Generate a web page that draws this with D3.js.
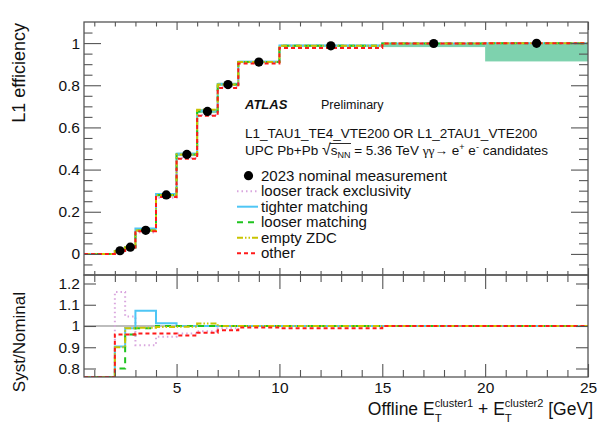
<!DOCTYPE html>
<html>
<head>
<meta charset="utf-8">
<script src="https://cdn.jsdelivr.net/npm/d3@7"></script>
<style>
body { margin: 0; background: #fff; }
text { font-family: "Liberation Sans", Arial, Helvetica, sans-serif; fill: #111; }
</style>
</head>
<body>
<div id="chart"></div>
<script>
// bins of offline Et sum [GeV]
var binEdges = [0.5, 2, 2.5, 3, 4, 5, 6, 7, 8, 10, 15, 20, 25];
var binCenters = [1.25, 2.25, 2.75, 3.5, 4.5, 5.5, 6.5, 7.5, 9, 12.5, 17.5, 22.5];

// nominal efficiency (black dots), first bin not drawn
var nominal = [null, 0.015, 0.032, 0.112, 0.280, 0.472, 0.676, 0.803, 0.910, 0.987, 0.998, 0.999];

// total syst band
var bandLo = [0, 0.010, 0.028, 0.106, 0.272, 0.464, 0.668, 0.797, 0.905, 0.982, 0.981, 0.913];
var bandHi = [0, 0.020, 0.036, 0.118, 0.288, 0.480, 0.686, 0.812, 0.916, 0.992, 0.997, 0.997];

// efficiency of each variation (upper panel)
var effTrack      = [0, 0.017, 0.033, 0.102, 0.266, 0.455, 0.659, 0.795, 0.910, 0.987, 0.998, 0.999];
var effTight      = [0, 0.014, 0.032, 0.120, 0.284, 0.475, 0.680, 0.806, 0.911, 0.988, 0.998, 0.999];
var effLooseMatch = [0, 0.012, 0.031, 0.111, 0.280, 0.472, 0.676, 0.803, 0.910, 0.987, 0.998, 0.999];
var effZDC        = [0, 0.014, 0.032, 0.111, 0.279, 0.471, 0.684, 0.803, 0.910, 0.987, 0.998, 0.999];
var effOther      = [0, 0.014, 0.031, 0.108, 0.270, 0.451, 0.655, 0.787, 0.903, 0.977, 0.998, 0.999];

// syst / nominal (lower panel)
var ratioTrack      = [0, 1.160, 1.045, 0.910, 0.950, 0.965, 0.975, 0.990, 1.000, 1.000, 1.000, 1.000];
var ratioTight      = [0, 0.903, 0.990, 1.072, 1.013, 1.000, 1.000, 1.000, 1.000, 1.000, 1.000, 1.000];
var ratioLooseMatch = [0, 0.800, 0.960, 0.990, 1.000, 1.000, 1.000, 1.000, 1.000, 1.000, 1.000, 1.000];
var ratioZDC        = [0, 0.900, 0.990, 0.992, 0.995, 0.997, 1.012, 1.000, 1.000, 1.000, 1.000, 1.000];
var ratioOther      = [0, 0.960, 0.960, 0.965, 0.965, 0.955, 0.968, 0.980, 0.993, 0.990, 1.000, 1.000];

var legendNames = ["2023 nominal measurement", "looser track exclusivity", "tighter matching",
                   "looser matching", "empty ZDC", "other"];

var xMajor = [5, 10, 15, 20, 25];
var yTopMajor = [0, 0.2, 0.4, 0.6, 0.8, 1];
var yBotMajor = [0.8, 0.9, 1, 1.1, 1.2];

// line styles, same order as the variations
var styles = [
  {color: "#d9a6de", dash: "1.5,3", width: 2},
  {color: "#4fc6f5", dash: null, width: 2},
  {color: "#1fc41f", dash: "6,5", width: 2},
  {color: "#c9c400", dash: "6,2,1.5,2,1.5,2", width: 2},
  {color: "#ff1a1a", dash: "4,3", width: 2}
];
var upperSeries = [effTrack, effTight, effLooseMatch, effZDC, effOther];
var lowerSeries = [ratioTrack, ratioTight, ratioLooseMatch, ratioZDC, ratioOther];

var W = 599, H = 427;
var padL = 84, padR = 588, padT = 22, padSplit = 275, padB = 377;

var svg = d3.select("#chart").append("svg")
  .attr("width", W).attr("height", H);

var x = d3.scaleLinear().domain([0.5, 25]).range([padL, padR]);
var yTop = d3.scaleLinear().domain([-0.1, 1.1]).range([padSplit, padT]);
var yBot = d3.scaleLinear().domain([0.76, 1.24]).range([padB, padSplit]).clamp(true);

// clip for each panel
var defs = svg.append("defs");
defs.append("clipPath").attr("id", "clipTop").append("rect")
  .attr("x", padL).attr("y", padT).attr("width", padR - padL).attr("height", padSplit - padT);
defs.append("clipPath").attr("id", "clipBot").append("rect")
  .attr("x", padL).attr("y", padSplit).attr("width", padR - padL).attr("height", padB - padSplit);

function stepPoints(vals) {
  var pts = vals.map(function(v, i) { return [binEdges[i], v]; });
  pts.push([binEdges[binEdges.length - 1], vals[vals.length - 1]]);
  return pts;
}

// ---------- upper panel ----------
var gTop = svg.append("g").attr("clip-path", "url(#clipTop)");

// syst band
gTop.selectAll("rect.band")
  .data(d3.range(1, binCenters.length))
  .enter().append("rect")
  .attr("class", "band")
  .attr("x", function(i) { return x(binEdges[i]); })
  .attr("width", function(i) { return x(binEdges[i + 1]) - x(binEdges[i]); })
  .attr("y", function(i) { return yTop(bandHi[i]); })
  .attr("height", function(i) { return yTop(bandLo[i]) - yTop(bandHi[i]); })
  .attr("fill", "#7ed2ae");

var lineTop = d3.line()
  .x(function(d) { return x(d[0]); })
  .y(function(d) { return yTop(d[1]); })
  .curve(d3.curveStepAfter);

upperSeries.forEach(function(vals, k) {
  gTop.append("path")
    .attr("d", lineTop(stepPoints(vals)))
    .attr("fill", "none")
    .attr("stroke", styles[k].color)
    .attr("stroke-width", styles[k].width)
    .attr("stroke-dasharray", styles[k].dash);
});

gTop.selectAll("circle.nom")
  .data(binCenters.map(function(c, i) { return [c, nominal[i]]; })
        .filter(function(d) { return d[1] !== null; }))
  .enter().append("circle")
  .attr("cx", function(d) { return x(d[0]); })
  .attr("cy", function(d) { return yTop(d[1]); })
  .attr("r", 4.6)
  .attr("fill", "#000");

// ---------- lower panel ----------
var gBot = svg.append("g").attr("clip-path", "url(#clipBot)");

gBot.append("line")
  .attr("x1", padL).attr("x2", padR)
  .attr("y1", yBot(1)).attr("y2", yBot(1))
  .attr("stroke", "#bdbdbd").attr("stroke-width", 2);

var lineBot = d3.line()
  .x(function(d) { return x(d[0]); })
  .y(function(d) { return yBot(d[1]); })
  .curve(d3.curveStepAfter);

lowerSeries.forEach(function(vals, k) {
  gBot.append("path")
    .attr("d", lineBot(stepPoints(vals)))
    .attr("fill", "none")
    .attr("stroke", styles[k].color)
    .attr("stroke-width", styles[k].width)
    .attr("stroke-dasharray", styles[k].dash);
});

// ---------- axes ----------
var xMinor = d3.range(1, 25).filter(function(v) { return v % 5 !== 0; });
var yTopMinor = d3.range(-1, 22).map(function(i) { return Math.round(i * 5) / 100; })
  .filter(function(v) { return yTopMajor.indexOf(v) < 0; });

function ticks(axis, values, size, tx, ty, fmt, pad) {
  var g = svg.append("g")
    .attr("transform", "translate(" + tx + "," + ty + ")")
    .call(axis.tickValues(values).tickSize(-size).tickPadding(pad || 0)
      .tickFormat(fmt || function() { return ""; }));
  g.select(".domain").remove();
  g.selectAll(".tick line").attr("stroke", "#555").attr("stroke-width", 1.1);
  g.selectAll(".tick text")
    .style("font-family", "'Liberation Sans', Arial, sans-serif")
    .style("font-size", "15.5px").attr("fill", "#111");
  return g;
}

var fmtY = function(d) { return d3.format("~g")(d); };

// upper panel
ticks(d3.axisTop(x), xMajor, 8, 0, padT);
ticks(d3.axisTop(x), xMinor, 4.5, 0, padT);
ticks(d3.axisBottom(x), xMajor, 7, 0, padSplit);
ticks(d3.axisBottom(x), xMinor, 4, 0, padSplit);
ticks(d3.axisLeft(yTop), yTopMajor, 17, padL, 0, fmtY, 4);
ticks(d3.axisLeft(yTop), yTopMinor, 8.5, padL, 0);
ticks(d3.axisRight(yTop), yTopMajor, 17, padR, 0);
ticks(d3.axisRight(yTop), yTopMinor, 9, padR, 0);

// lower panel
ticks(d3.axisTop(x), xMajor, 14, 0, padSplit);
ticks(d3.axisTop(x), xMinor, 7, 0, padSplit);
ticks(d3.axisBottom(x), xMajor, 13, 0, padB, function(d) { return d; }, 5);
ticks(d3.axisBottom(x), xMinor, 7, 0, padB);
ticks(d3.axisLeft(yBot), yBotMajor, 12, padL, 0, fmtY, 4);
ticks(d3.axisRight(yBot), yBotMajor, 12, padR, 0);

// frames
[[padT, padSplit], [padSplit, padB]].forEach(function(p) {
  svg.append("rect")
    .attr("x", padL).attr("y", p[0])
    .attr("width", padR - padL).attr("height", p[1] - p[0])
    .attr("fill", "none").attr("stroke", "#555").attr("stroke-width", 1.3);
});

// axis titles
svg.append("text")
  .attr("transform", "translate(25," + (padT + 1) + ") rotate(-90)")
  .attr("text-anchor", "end")
  .style("font-size", "18px")
  .text("L1 efficiency");

svg.append("text")
  .attr("transform", "translate(25,292) rotate(-90)")
  .attr("text-anchor", "end")
  .style("font-size", "17px")
  .text("Syst/Nominal");

var xt = svg.append("text")
  .attr("x", 593).attr("y", 415)
  .attr("text-anchor", "end")
  .style("font-size", "17.5px");
xt.append("tspan").text("Offline E");
xt.append("tspan").attr("dy", 7).style("font-size", "11.5px").text("T");
xt.append("tspan").attr("dx", -7).attr("dy", -15).style("font-size", "11px").text("cluster1");
xt.append("tspan").attr("dy", 8).text(" + E");
xt.append("tspan").attr("dy", 7).style("font-size", "11.5px").text("T");
xt.append("tspan").attr("dx", -7).attr("dy", -15).style("font-size", "11px").text("cluster2");
xt.append("tspan").attr("dy", 8).text(" [GeV]");

// labels
svg.append("text").attr("x", 245).attr("y", 109)
  .style("font-size", "13px").style("font-weight", "bold").style("font-style", "italic")
  .text("ATLAS");
svg.append("text").attr("x", 321).attr("y", 109)
  .style("font-size", "12.5px")
  .text("Preliminary");

svg.append("text").attr("x", 245).attr("y", 138)
  .style("font-size", "13.5px")
  .text("L1_TAU1_TE4_VTE200 OR L1_2TAU1_VTE200");

var l3 = svg.append("text").attr("x", 245).attr("y", 155)
  .style("font-size", "13.5px");
l3.append("tspan").text("UPC Pb+Pb ");
l3.append("tspan").style("font-size", "16px").text("\u221A");
l3.append("tspan").text("s");
l3.append("tspan").attr("dy", 3).style("font-size", "9px").text("NN");
l3.append("tspan").attr("dy", -3).text(" = 5.36 TeV ");
l3.append("tspan").style("font-family", "'Liberation Serif', serif").text("\u03B3\u03B3");
l3.append("tspan").text("\u2192 e");
l3.append("tspan").attr("dy", -5).style("font-size", "9px").text("+");
l3.append("tspan").attr("dy", 5).text(" e");
l3.append("tspan").attr("dy", -5).style("font-size", "9px").text("-");
l3.append("tspan").attr("dy", 5).text(" candidates");

// overline over s_NN
var l3node = l3.node();
var fullText = l3node.textContent;
var iS = fullText.indexOf("\u221A") + 1;
var ex1 = l3node.getExtentOfChar(iS + 2);
var exR = l3node.getExtentOfChar(iS - 1);
svg.append("line")
  .attr("x1", exR.x + exR.width - 1).attr("x2", ex1.x + ex1.width + 0.5)
  .attr("y1", exR.y + 2.5).attr("y2", exR.y + 2.5)
  .attr("stroke", "#111").attr("stroke-width", 0.9);

// legend
var legY0 = 180.7, legDy = 15.5;
var leg = svg.append("g");
leg.selectAll("text")
  .data(legendNames)
  .enter().append("text")
  .attr("x", 261)
  .attr("y", function(d, i) { return legY0 + i * legDy; })
  .style("font-size", "15px")
  .text(function(d) { return d; });

leg.append("circle")
  .attr("cx", 248.5).attr("cy", legY0 - 5).attr("r", 4.6).attr("fill", "#000");

styles.forEach(function(s, k) {
  var yy = legY0 + (k + 1) * legDy - 5;
  leg.append("line")
    .attr("x1", 237).attr("x2", 258)
    .attr("y1", yy).attr("y2", yy)
    .attr("stroke", s.color)
    .attr("stroke-width", s.width)
    .attr("stroke-dasharray", s.dash);
});
</script>
</body>
</html>
